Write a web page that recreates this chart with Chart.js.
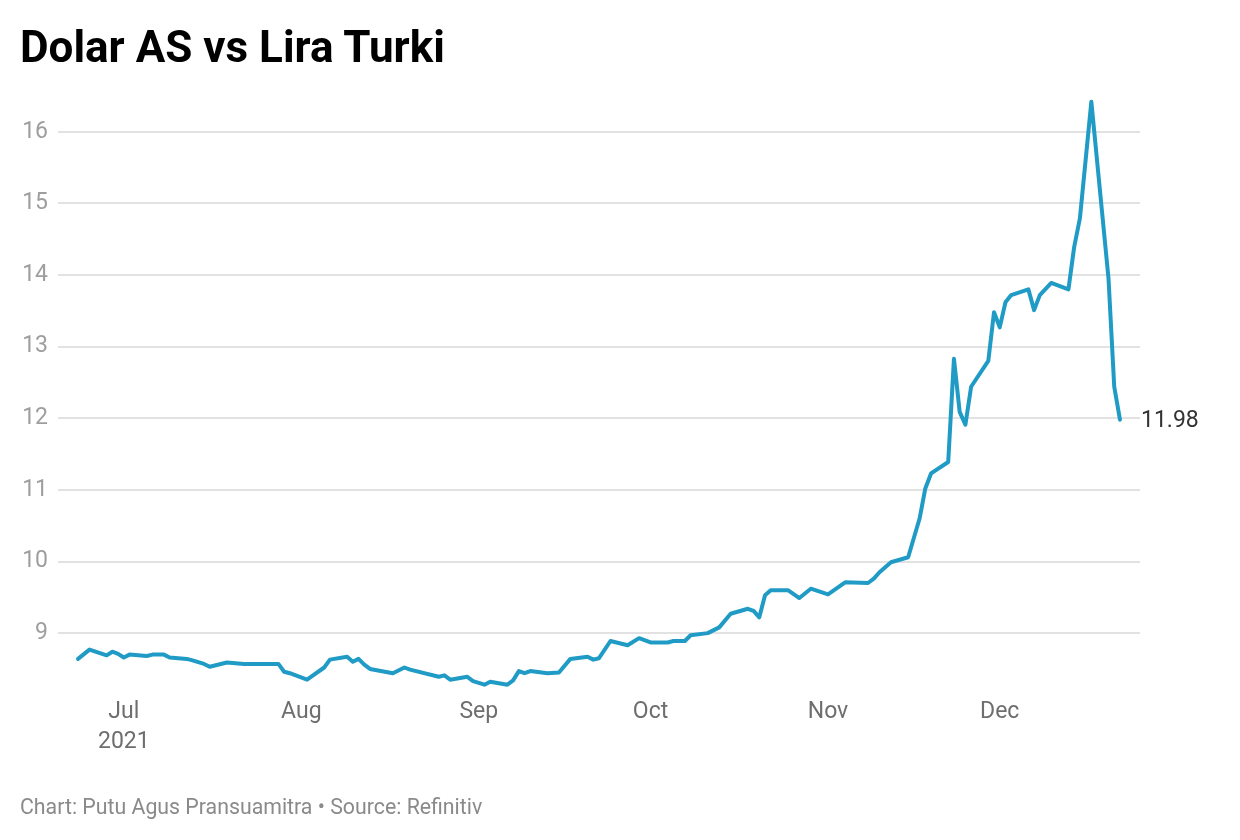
<!DOCTYPE html>
<html>
<head>
<meta charset="utf-8">
<title>Dolar AS vs Lira Turki</title>
<script src="https://cdn.jsdelivr.net/npm/chart.js@4.4.1/dist/chart.umd.min.js"></script>
<style>
    body { margin: 0; background: #fff; font-family: Roboto, "Noto Sans", sans-serif; }
    #wrap { position: relative; width: 1240px; height: 840px; }
    #title { position: absolute; left: 20px; top: 25px; margin: 0; font-size: 44px; line-height: 44px; font-weight: 700; color: #000; }
    #footer { position: absolute; left: 20px; top: 796px; font-size: 21.3px; line-height: 21px; color: #8a8a8a; }
    canvas { position: absolute; left: 0; top: 0; }
</style>
</head>
<body>
<div id="wrap">
    <canvas id="kursChart" width="1240" height="840"></canvas>
    <h1 id="title">Dolar AS vs Lira Turki</h1>
    <div id="footer">Chart: Putu Agus Pransuamitra • Source: Refinitiv</div>
</div>
<script>
// USD/TRY closing rates
const dates = [
    '2021-06-23', '2021-06-25', '2021-06-28', '2021-06-29', '2021-06-30',
    '2021-07-01', '2021-07-02', '2021-07-05', '2021-07-06', '2021-07-08',
    '2021-07-09', '2021-07-12', '2021-07-13', '2021-07-15', '2021-07-16',
    '2021-07-19', '2021-07-22', '2021-07-28', '2021-07-29', '2021-07-30',
    '2021-08-02', '2021-08-05', '2021-08-06', '2021-08-09', '2021-08-10',
    '2021-08-11', '2021-08-12', '2021-08-13', '2021-08-17', '2021-08-19',
    '2021-08-20', '2021-08-25', '2021-08-26', '2021-08-27', '2021-08-30',
    '2021-08-31', '2021-09-02', '2021-09-03', '2021-09-06', '2021-09-07',
    '2021-09-08', '2021-09-09', '2021-09-10', '2021-09-13', '2021-09-15',
    '2021-09-17', '2021-09-20', '2021-09-21', '2021-09-22', '2021-09-24',
    '2021-09-27', '2021-09-29', '2021-10-01', '2021-10-04', '2021-10-05',
    '2021-10-07', '2021-10-08', '2021-10-11', '2021-10-13', '2021-10-15',
    '2021-10-18', '2021-10-19', '2021-10-20', '2021-10-21', '2021-10-22',
    '2021-10-25', '2021-10-27', '2021-10-29', '2021-11-01', '2021-11-04',
    '2021-11-08', '2021-11-09', '2021-11-10', '2021-11-12', '2021-11-15',
    '2021-11-17', '2021-11-18', '2021-11-19', '2021-11-22', '2021-11-23',
    '2021-11-24', '2021-11-25', '2021-11-26', '2021-11-29', '2021-11-30',
    '2021-12-01', '2021-12-02', '2021-12-03', '2021-12-06', '2021-12-07',
    '2021-12-08', '2021-12-10', '2021-12-13', '2021-12-14', '2021-12-15',
    '2021-12-17', '2021-12-20', '2021-12-21', '2021-12-22'
];
const usdTry = [
    8.64, 8.77, 8.69, 8.74, 8.71,
    8.66, 8.70, 8.68, 8.70, 8.70,
    8.66, 8.64, 8.62, 8.57, 8.53,
    8.59, 8.57, 8.57, 8.46, 8.44,
    8.35, 8.52, 8.63, 8.67, 8.60,
    8.64, 8.56, 8.50, 8.44, 8.52,
    8.49, 8.39, 8.41, 8.35, 8.39,
    8.33, 8.28, 8.32, 8.28, 8.34,
    8.47, 8.44, 8.47, 8.44, 8.45,
    8.64, 8.67, 8.63, 8.65, 8.89,
    8.83, 8.93, 8.87, 8.87, 8.89,
    8.89, 8.97, 9.00, 9.08, 9.27,
    9.34, 9.31, 9.22, 9.53, 9.60,
    9.60, 9.49, 9.62, 9.54, 9.71,
    9.70, 9.76, 9.85, 9.99, 10.06,
    10.60, 11.02, 11.23, 11.39, 12.83,
    12.09, 11.91, 12.44, 12.80, 13.48,
    13.27, 13.62, 13.72, 13.80, 13.51,
    13.72, 13.89, 13.80, 14.39, 14.79,
    16.42, 13.95, 12.44, 11.98
];

// x axis ticks: first day of each month, days counted from 1 Jul 2021
const monthStarts = ['2021-07-01', '2021-08-01', '2021-09-01', '2021-10-01', '2021-11-01', '2021-12-01'];
const monthLabels = [['Jul', '2021'], 'Aug', 'Sep', 'Oct', 'Nov', 'Dec'];
const yTicks = [9, 10, 11, 12, 13, 14, 15, 16];

const DAY = 24 * 3600 * 1000;
const origin = Date.parse('2021-07-01T00:00:00Z');
function toDay(s) {
    return (Date.parse(s + 'T00:00:00Z') - origin) / DAY;
}

const points = dates.map((d, i) => ({ x: toDay(d), y: usdTry[i] }));
const tickDays = monthStarts.map(toDay);

// Label the last value to the right of the line
const endLabel = {
    id: 'endLabel',
    afterDatasetsDraw(chart) {
        const meta = chart.getDatasetMeta(0);
        const last = meta.data[meta.data.length - 1];
        const ctx = chart.ctx;
        ctx.save();
        ctx.font = '23px Roboto';
        ctx.fillStyle = '#333';
        ctx.textAlign = 'left';
        ctx.textBaseline = 'middle';
        ctx.fillText(usdTry[usdTry.length - 1].toFixed(2), last.x + 21, last.y + 2);
        ctx.restore();
    }
};

const ctx = document.getElementById('kursChart').getContext('2d');
new Chart(ctx, {
    type: 'line',
    data: {
        datasets: [{
            data: points,
            borderColor: '#1f9bc5',
            borderWidth: 4,
            pointRadius: 0,
            tension: 0,
            borderJoinStyle: 'round',
            borderCapStyle: 'round'
        }]
    },
    options: {
        responsive: false,
        animation: false,
        layout: {
            padding: { left: 0, right: 100, top: 96, bottom: 66 }
        },
        plugins: {
            legend: { display: false },
            tooltip: { enabled: false }
        },
        scales: {
            x: {
                type: 'linear',
                min: -11.5,
                max: 177.5,
                grid: { display: false, drawTicks: false },
                border: { display: false },
                afterFit: scale => { scale.height = 80; },
                afterBuildTicks: axis => {
                    axis.ticks = tickDays.map(v => ({ value: v }));
                },
                ticks: {
                    padding: 3,
                    color: '#6e6e6e',
                    font: { family: 'Roboto', size: 23, lineHeight: 1.3 },
                    callback: function(value) {
                        const i = tickDays.indexOf(value);
                        return i >= 0 ? monthLabels[i] : '';
                    }
                }
            },
            y: {
                min: 8.15,
                max: 16.5,
                grid: { color: '#e2e2e2', lineWidth: 2, drawTicks: false },
                border: { display: false },
                afterFit: scale => { scale.width = 58; },
                afterBuildTicks: axis => {
                    axis.ticks = yTicks.map(v => ({ value: v }));
                },
                ticks: {
                    padding: 10,
                    color: '#9e9e9e',
                    font: { family: 'Roboto', size: 23 }
                }
            }
        }
    },
    plugins: [endLabel]
});
</script>
</body>
</html>
